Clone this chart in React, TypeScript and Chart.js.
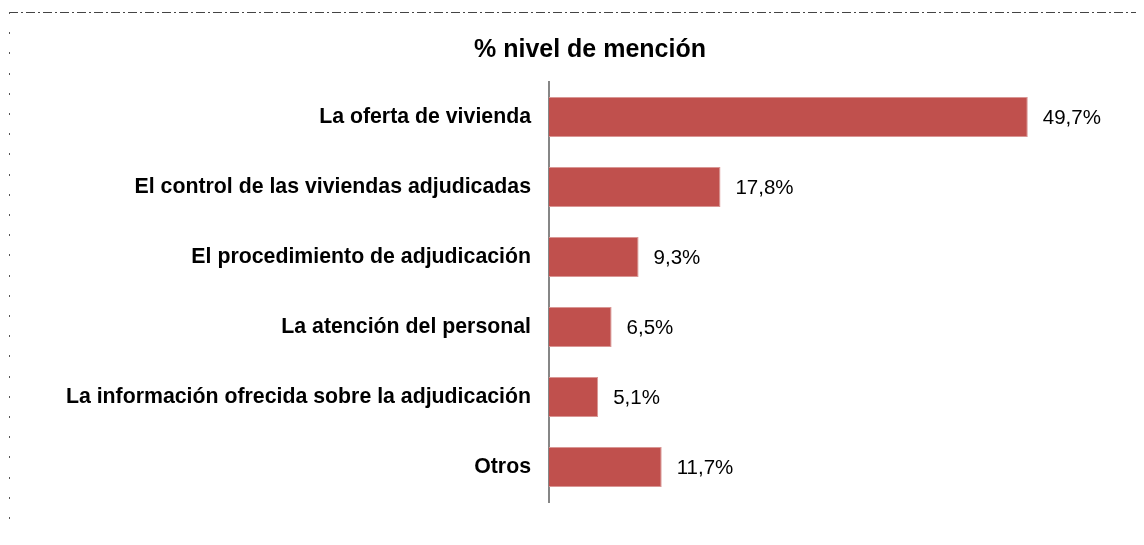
import React, { useEffect, useRef } from "react";
import { Chart, registerables } from "chart.js";

Chart.register(...registerables);

const categories = [
  "La oferta de vivienda",
  "El control de las viviendas adjudicadas",
  "El procedimiento de adjudicación",
  "La atención del personal",
  "La información ofrecida sobre la adjudicación",
  "Otros",
];
const values = [49.7, 17.8, 9.3, 6.5, 5.1, 11.7];
const valueLabels = ["49,7%", "17,8%", "9,3%", "6,5%", "5,1%", "11,7%"];
const titleText = "% nivel de mención";

const FONT = "'Liberation Sans', Arial, sans-serif";

const decorPlugin = {
  id: "decor",
  beforeDraw(chart: any) {
    const ctx = chart.ctx;
    ctx.save();
    ctx.strokeStyle = "#444";
    ctx.lineWidth = 1;
    ctx.setLineDash([9, 3, 2, 3]);
    ctx.beginPath();
    ctx.moveTo(1, 4.5);
    ctx.lineTo(chart.width, 4.5);
    ctx.stroke();
    ctx.setLineDash([]);
    ctx.fillStyle = "#555";
    for (let y = 4; y < chart.height; y += 20.2) {
      ctx.fillRect(1, Math.round(y), 1, 2);
    }
    ctx.restore();
  },
  afterDraw(chart: any) {
    const ctx = chart.ctx;
    ctx.save();
    ctx.fillStyle = "#000";
    ctx.font = `bold 25px ${FONT}`;
    ctx.textAlign = "center";
    ctx.textBaseline = "middle";
    ctx.fillText(titleText, 582, 42);
    const meta = chart.getDatasetMeta(0);
    ctx.font = `20.5px ${FONT}`;
    ctx.textAlign = "left";
    meta.data.forEach((bar: any, i: number) => {
      ctx.fillText(valueLabels[i], bar.x + 15, bar.y + 1);
    });
    ctx.restore();
  },
};

export default function App() {
  const ref = useRef<HTMLCanvasElement>(null);
  useEffect(() => {
    const chart = new Chart(ref.current!, {
      type: "bar",
      data: {
        labels: categories,
        datasets: [
          {
            data: values,
            backgroundColor: "#C0504D",
            borderColor: "#D99694",
            borderWidth: 1,
            barPercentage: 0.8,
            categoryPercentage: 40 / 56,
          },
        ],
      },
      options: {
        indexAxis: "y",
        animation: false,
        responsive: true,
        maintainAspectRatio: false,
        layout: { padding: { top: 74, bottom: 35, left: 0, right: 9 } },
        plugins: {
          legend: { display: false },
          tooltip: { enabled: false },
          title: { display: false },
        },
        scales: {
          x: {
            display: false,
            min: 0,
            max: 60,
          },
          y: {
            afterFit: (s: any) => {
              s.width = 541;
            },
            grid: { display: false, drawTicks: false },
            border: { display: true, color: "#868686", width: 2 },
            ticks: {
              color: "#000",
              padding: 18,
              font: { family: FONT, size: 21.3, weight: "bold" },
            },
          },
        },
      },
      plugins: [decorPlugin],
    });
    return () => chart.destroy();
  }, []);
  return (
    <div style={{ width: 1128, height: 529, position: "relative" }}>
      <canvas ref={ref} />
    </div>
  );
}
